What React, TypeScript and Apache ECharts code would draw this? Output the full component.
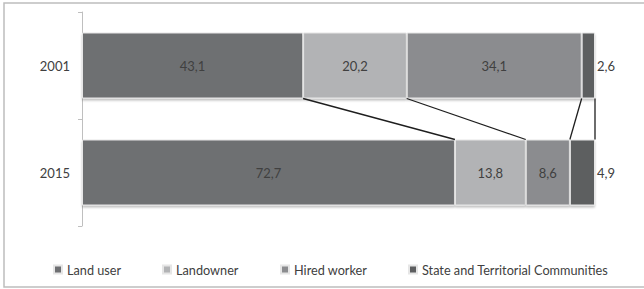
import React, { useEffect, useRef } from "react";
import * as echarts from "echarts";

const years = ["2001", "2015"];
const seriesNames = ["Land user", "Landowner", "Hired worker", "State and Territorial Communities"];
const landUser = [43.1, 72.7];
const landowner = [20.2, 13.8];
const hiredWorker = [34.1, 8.6];
const stateCommunities = [2.6, 4.9];
const colors = ["#6e6f72", "#b2b3b5", "#8b8c8f", "#5d5e60"];
const legendLefts = [53, 162, 280, 408];

const FONT = "Lato, 'Open Sans', sans-serif";
const BAR_W = 66;

export default function App() {
  const ref = useRef<HTMLDivElement>(null);
  useEffect(() => {
    if (!ref.current) return;
    const chart = echarts.init(ref.current, null, { renderer: "svg" });
    const values = [landUser, landowner, hiredWorker, stateCommunities];
    const fmt = (v: number) => String(v).replace(".", ",");

    // cumulative boundaries for connector lines
    const connectors: number[][] = [];
    let c0 = 0, c1 = 0;
    for (let i = 0; i < values.length; i++) {
      c0 += values[i][0];
      c1 += values[i][1];
      connectors.push([Math.round(c0 * 10) / 10, 0, Math.round(c1 * 10) / 10]);
    }

    const barSeries = seriesNames.map((name, i) => ({
      name,
      type: "bar",
      stack: "total",
      barWidth: BAR_W,
      data: values[i],
      itemStyle: {
        color: colors[i],
        borderColor: "#e6e6e6",
        borderWidth: 1,
        shadowColor: "rgba(0,0,0,0.25)",
        shadowBlur: 2,
        shadowOffsetY: 2,
      },
      label: {
        show: true,
        position: i === 3 ? "right" : "inside",
        distance: 2,
        formatter: (p: any) => fmt(p.value),
        color: "#404040",
        fontSize: 13,
        fontFamily: FONT,
      },
    }));

    const lineSeries = {
      type: "custom",
      coordinateSystem: "cartesian2d",
      encode: { x: [0, 2], y: 1 },
      data: connectors,
      silent: true,
      z: 5,
      renderItem: (_params: any, api: any) => {
        const p1 = api.coord([api.value(0), 0]);
        const p2 = api.coord([api.value(2), 1]);
        return {
          type: "line",
          shape: { x1: p1[0], y1: p1[1] + BAR_W / 2, x2: p2[0], y2: p2[1] - BAR_W / 2 },
          style: { stroke: "#1e1e1e", lineWidth: 1.3 },
        };
      },
    };

    chart.setOption({
      animation: false,
      backgroundColor: "#ffffff",
      textStyle: { fontFamily: FONT },
      graphic: [
        {
          type: "rect",
          shape: { x: 4, y: 3, width: 700, height: 284 },
          style: { fill: "none", stroke: "#bdbdbd", lineWidth: 1.5 },
          silent: true,
        },
      ],
      grid: { left: 82, right: 49, top: 12, bottom: 63 },
      xAxis: { type: "value", min: 0, max: 100, show: false },
      yAxis: {
        type: "category",
        data: years,
        inverse: true,
        axisLine: { show: true, lineStyle: { color: "#bfbfbf", width: 1 } },
        axisTick: { show: true, length: 4, lineStyle: { color: "#bfbfbf" } },
        axisLabel: { color: "#404040", fontSize: 13, margin: 12, fontFamily: FONT },
      },
      legend: seriesNames.map((n, i) => ({
        data: [n],
        left: legendLefts[i],
        top: 263,
        itemWidth: 8,
        itemHeight: 8,
        icon: "rect",
        itemGap: 4,
        padding: 0,
        textStyle: { color: "#404040", fontSize: 12.7, fontFamily: FONT },
      })),
      series: [...barSeries, lineSeries],
    });
    return () => chart.dispose();
  }, []);
  return (
    <div
      ref={ref}
      style={{ position: "fixed", left: 0, top: 0, width: 644, height: 289 }}
    />
  );
}
